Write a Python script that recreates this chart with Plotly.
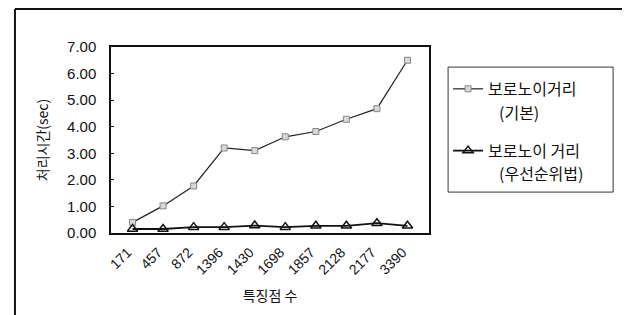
import plotly.graph_objects as go

categories = ["171", "457", "872", "1396", "1430", "1698", "1857", "2128", "2177", "3390"]
basic = [0.40, 1.02, 1.77, 3.20, 3.10, 3.62, 3.82, 4.28, 4.68, 6.50]
priority = [0.15, 0.15, 0.22, 0.22, 0.28, 0.22, 0.27, 0.27, 0.37, 0.27]
name_basic = "보로노이거리"
name_basic_sub = "(기본)"
name_priority = "보로노이 거리"
name_priority_sub = "(우선순위법)"
y_ticks = [0, 1, 2, 3, 4, 5, 6, 7]

FONT = "Liberation Sans, Arial, Noto Sans CJK KR, sans-serif"
KFONT = "Noto Sans CJK KR, sans-serif"

fig = go.Figure()
fig.add_trace(go.Scatter(
    x=categories, y=basic, name=name_basic, mode="lines+markers", legendgroup="a",
    line=dict(color="#222", width=1.2),
    marker=dict(symbol="square", size=6, color="#d8d8d8", line=dict(color="#888", width=1)),
))
fig.add_trace(go.Scatter(
    x=categories, y=priority, name=name_priority, mode="lines+markers", legendgroup="b",
    line=dict(color="#111", width=1.8),
    marker=dict(symbol="triangle-up-open", size=9, color="#111", line=dict(color="#111", width=1.5)),
))

# figure sized to fit inside the page's default 8px body margin
fig.update_layout(
    width=622, height=307,
    margin=dict(l=103, r=201, t=39, b=82),
    paper_bgcolor="white", plot_bgcolor="white",
    font=dict(family=FONT, color="#111", size=14),
    showlegend=True,
    legend=dict(
        x=1.06, y=0.866, xanchor="left", yanchor="top",
        borderwidth=0, bgcolor="rgba(0,0,0,0)",
        font=dict(size=16, family=KFONT),
        tracegroupgap=38, itemwidth=30,
    ),
    xaxis=dict(
        type="category", tickangle=-45, showgrid=False, automargin=False,
        showline=True, linecolor="#111", linewidth=1.5, mirror=True,
        ticks="", tickfont=dict(size=14), ticklabelshift=-5, ticklabelstandoff=4,
        title=dict(text="특징점 수", font=dict(size=14, family=KFONT)),
    ),
    yaxis=dict(
        range=[0, 7], tickvals=y_ticks, tickformat=".2f", showgrid=False, automargin=False,
        showline=True, linecolor="#111", linewidth=1.5, mirror=True,
        ticks="inside", ticklen=3, tickcolor="#111", tickfont=dict(size=15),
        ticklabelstandoff=10,
        title=dict(text="처리시간(sec)", font=dict(size=14, family=KFONT)),
    ),
)

# second lines of legend labels
fig.add_annotation(text=name_basic_sub, xref="paper", yref="paper", x=1.214, y=0.651,
                   xanchor="left", yanchor="middle", showarrow=False, font=dict(size=16, family=KFONT))
fig.add_annotation(text=name_priority_sub, xref="paper", yref="paper", x=1.214, y=0.323,
                   xanchor="left", yanchor="middle", showarrow=False, font=dict(size=16, family=KFONT))

# legend frame
fig.add_shape(type="rect", xref="paper", yref="paper", x0=1.06, x1=1.579, y0=0.22, y1=0.892,
              line=dict(color="#333", width=1), fillcolor="rgba(0,0,0,0)", layer="below")

# outer frame: left edge and top edge
fig.add_shape(type="line", xref="paper", yref="paper", x0=-0.302, x1=-0.302, y0=-0.5, y1=1.204,
              line=dict(color="#111", width=2))
fig.add_shape(type="line", xref="paper", yref="paper", x0=-0.302, x1=1.62, y0=1.204, y1=1.204,
              line=dict(color="#111", width=2))

fig.write_html("out.html", config={"displayModeBar": False})
